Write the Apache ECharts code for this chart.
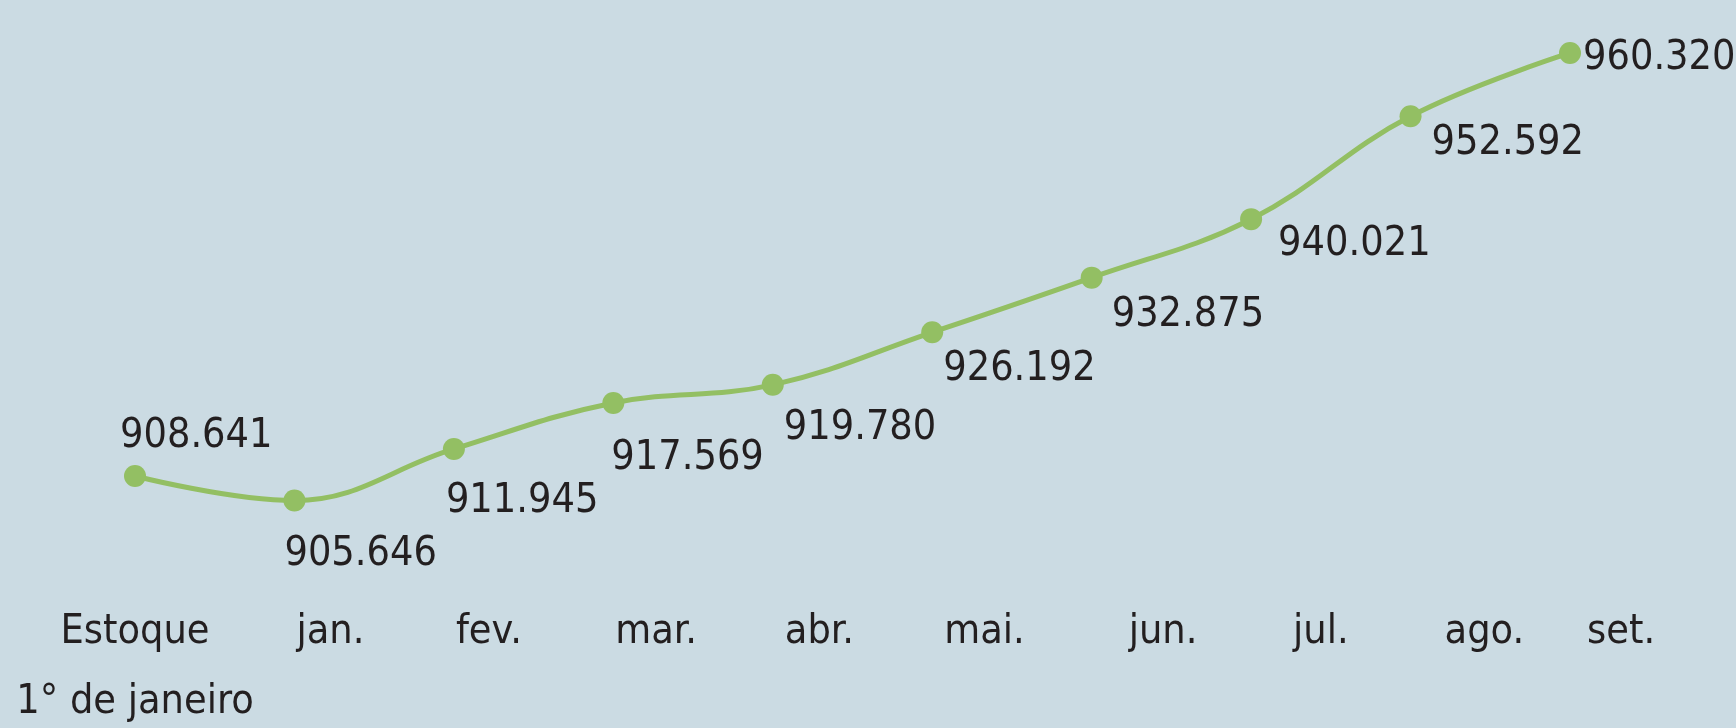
<!DOCTYPE html>
<html>
<head>
<meta charset="utf-8">
<script src="https://cdn.jsdelivr.net/npm/echarts@6/dist/echarts.min.js"></script>
<style>
  html, body { margin: 0; padding: 0; background: #cbdbe3; }
  #chart { width: 1736px; height: 728px; }
</style>
</head>
<body>
<div id="chart"></div>
<script>
const categories = ['Estoque\n1° de janeiro', 'jan.', 'fev.', 'mar.', 'abr.', 'mai.', 'jun.', 'jul.', 'ago.', 'set.']
const estoque = [908.641, 905.646, 911.945, 917.569, 919.78, 926.192, 932.875, 940.021, 952.592, 960.32]

// label nudges (px) relative to each point
const labelOffsets = [[-15, -40], [-10, 54], [-8, 52], [-2, 55], [11, 44], [11, 37], [20, 38], [27, 25], [21, 27], [13, 5]]
const tickPad = [0, 2, 2, 2, 12, 12, 37, 42, 34, 17]

const font = '"DejaVu Sans Condensed", "Liberation Sans Narrow", "Noto Sans", sans-serif'
const fmt = (v) => v.toFixed(3)

const chart = echarts.init(document.getElementById('chart'))

chart.setOption({
  backgroundColor: '#cbdbe3',
  animation: false,
  grid: { left: 135, right: 166, top: 20, bottom: 140, outerBoundsMode: 'none', containLabel: false },
  xAxis: {
    type: 'category',
    boundaryGap: false,
    data: categories.map((c, i) => ({
      value: c,
      textStyle: i === 0 ? { align: 'center' } : { align: 'left', padding: [0, 0, 0, tickPad[i]] },
    })),
    axisLine: { show: false },
    axisTick: { show: false },
    axisLabel: {
      color: '#231f20',
      fontFamily: font,
      fontSize: 41,
      lineHeight: 70,
      margin: 9,
      interval: 0,
    },
  },
  yAxis: {
    type: 'value',
    min: 894.96,
    max: 964.35,
    show: false,
    splitLine: { show: false },
  },
  series: [
    {
      type: 'line',
      smooth: 0.4,
      data: estoque.map((v, i) => ({
        value: v,
        label: { offset: labelOffsets[i] },
      })),
      symbol: 'circle',
      symbolSize: 22,
      lineStyle: { color: '#93bf63', width: 5 },
      itemStyle: { color: '#93bf63' },
      label: {
        show: true,
        position: 'inside',
        align: 'left',
        verticalAlign: 'middle',
        color: '#231f20',
        fontFamily: font,
        fontSize: 41,
        formatter: (p) => fmt(p.value),
      },
    },
  ],
})
</script>
</body>
</html>
